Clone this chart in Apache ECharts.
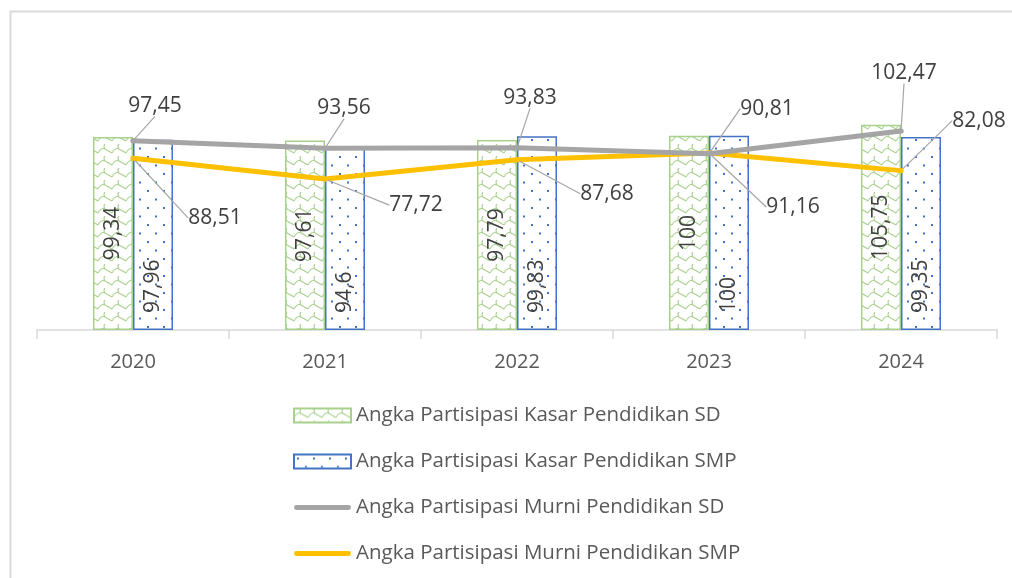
<!DOCTYPE html>
<html style="height: 100%">
<head>
    <meta charset="utf-8">
</head>
<body style="height: 100%; margin: 0; background: #fff">
<div id="container" style="width: 1012px; height: 578px"></div>
<script src="https://cdn.jsdelivr.net/npm/echarts@6/dist/echarts.min.js"></script>
<script type="text/javascript">
    var years = ['2020', '2021', '2022', '2023', '2024'];
    var apkSD = [99.34, 97.61, 97.79, 100, 105.75];
    var apkSMP = [97.96, 94.6, 99.83, 100, 99.35];
    var apmSD = [97.45, 93.56, 93.83, 90.81, 102.47];
    var apmSMP = [88.51, 77.72, 87.68, 91.16, 82.08];

    var names = [
        'Angka Partisipasi Kasar Pendidikan SD',
        'Angka Partisipasi Kasar Pendidikan SMP',
        'Angka Partisipasi Murni Pendidikan SD',
        'Angka Partisipasi Murni Pendidikan SMP'
    ];

    // label offsets (px) of the line labels from their points
    var offSD = [[22, -35], [19, -40], [13, -50], [58, -45], [3, -58]];
    var offSMP = [[82, 60], [91, 26], [90, 34], [84, 54], [78, -50]];

    function fmt(p) {
        return String(p.value).replace('.', ',');
    }

    // green wave pattern
    function wavePattern() {
        var c = document.createElement('canvas');
        c.width = 14; c.height = 12;
        var g = c.getContext('2d');
        g.fillStyle = '#ffffff';
        g.fillRect(0, 0, 14, 12);
        g.strokeStyle = '#A9D18E';
        g.lineWidth = 1.1;
        g.beginPath();
        g.moveTo(0, 9);
        g.quadraticCurveTo(3.5, 3, 7, 5);
        g.quadraticCurveTo(10.5, 7, 14, 9);
        g.moveTo(7, 5);
        g.quadraticCurveTo(5, 2, 7, 0);
        g.stroke();
        return c;
    }
    // blue dotted pattern
    function dotPattern() {
        var c = document.createElement('canvas');
        c.width = 16; c.height = 17;
        var g = c.getContext('2d');
        g.fillStyle = '#ffffff';
        g.fillRect(0, 0, 16, 17);
        g.fillStyle = '#4472C4';
        g.fillRect(3, 3, 2, 2);
        g.fillRect(11, 11.5, 2, 2);
        return c;
    }

    var dom = document.getElementById('container');
    var myChart = echarts.init(dom);
    var txt = '#404040';
    var roundPath = 'path://M2.5,0 L56.5,0 A2.5,2.5 0 0 1 56.5,5 L2.5,5 A2.5,2.5 0 0 1 2.5,0 Z';

    var option = {
        animation: false,
        textStyle: { fontFamily: 'Open Sans' },
        graphic: [{
            type: 'rect',
            left: 8, top: 9,
            shape: { width: 1200, height: 800 },
            style: { fill: 'none', stroke: '#D9D9D9', lineWidth: 2 },
            silent: true
        }],
        grid: { left: 37, right: 15, top: 97, bottom: 248 },
        legend: {
            orient: 'vertical',
            left: 293,
            top: 405,
            padding: 0,
            itemWidth: 57,
            itemHeight: 14,
            itemGap: 25,
            textStyle: { fontSize: 20.5, color: '#595959', fontFamily: 'Open Sans' },
            data: [
                { name: names[0], icon: 'rect' },
                { name: names[1], icon: 'rect' },
                { name: names[2], icon: roundPath, itemStyle: { color: '#A5A5A5', borderWidth: 0 } },
                { name: names[3], icon: roundPath, itemStyle: { color: '#FFC000', borderWidth: 0 } }
            ]
        },
        xAxis: {
            type: 'category',
            data: years,
            axisLine: { lineStyle: { color: '#D9D9D9', width: 1.5 } },
            axisTick: { show: true, length: 9, lineStyle: { color: '#D9D9D9', width: 1.5 } },
            axisLabel: { color: '#595959', fontSize: 20, margin: 22 }
        },
        yAxis: { type: 'value', min: 0, max: 120, show: false },
        series: [
            {
                name: names[0],
                type: 'bar',
                data: apkSD,
                barWidth: 40,
                barGap: 0,
                itemStyle: {
                    color: { image: wavePattern(), repeat: 'repeat' },
                    borderColor: '#A9D18E',
                    borderWidth: 1.5
                },
                label: {
                    show: true, position: 'inside', rotate: 90,
                    color: txt, fontSize: 21, formatter: fmt
                }
            },
            {
                name: names[1],
                type: 'bar',
                data: apkSMP,
                barWidth: 40,
                barGap: 0,
                itemStyle: {
                    color: { image: dotPattern(), repeat: 'repeat' },
                    borderColor: '#4472C4',
                    borderWidth: 1.5
                },
                label: {
                    show: true, position: 'insideBottom', rotate: 90,
                    align: 'left', verticalAlign: 'middle', distance: 17,
                    color: txt, fontSize: 21, formatter: fmt
                }
            },
            {
                name: names[2],
                type: 'line',
                data: apmSD,
                symbol: 'circle',
                symbolSize: 5,
                itemStyle: { color: '#A5A5A5' },
                lineStyle: { color: '#A5A5A5', width: 5, cap: 'round', join: 'round' },
                label: { show: true, position: 'inside', color: txt, fontSize: 21, formatter: fmt },
                labelLine: { show: true, lineStyle: { color: '#A6A6A6', width: 1.2 } },
                labelLayout: function (p) {
                    return { dx: offSD[p.dataIndex][0], dy: offSD[p.dataIndex][1] };
                },
                z: 4
            },
            {
                name: names[3],
                type: 'line',
                data: apmSMP,
                symbol: 'circle',
                symbolSize: 5,
                itemStyle: { color: '#FFC000' },
                lineStyle: { color: '#FFC000', width: 5, cap: 'round', join: 'round' },
                label: { show: true, position: 'inside', color: txt, fontSize: 21, formatter: fmt },
                labelLine: { show: true, lineStyle: { color: '#A6A6A6', width: 1.2 } },
                labelLayout: function (p) {
                    return { dx: offSMP[p.dataIndex][0], dy: offSMP[p.dataIndex][1] };
                },
                z: 3
            }
        ]
    };
    myChart.setOption(option);
</script>
</body>
</html>
